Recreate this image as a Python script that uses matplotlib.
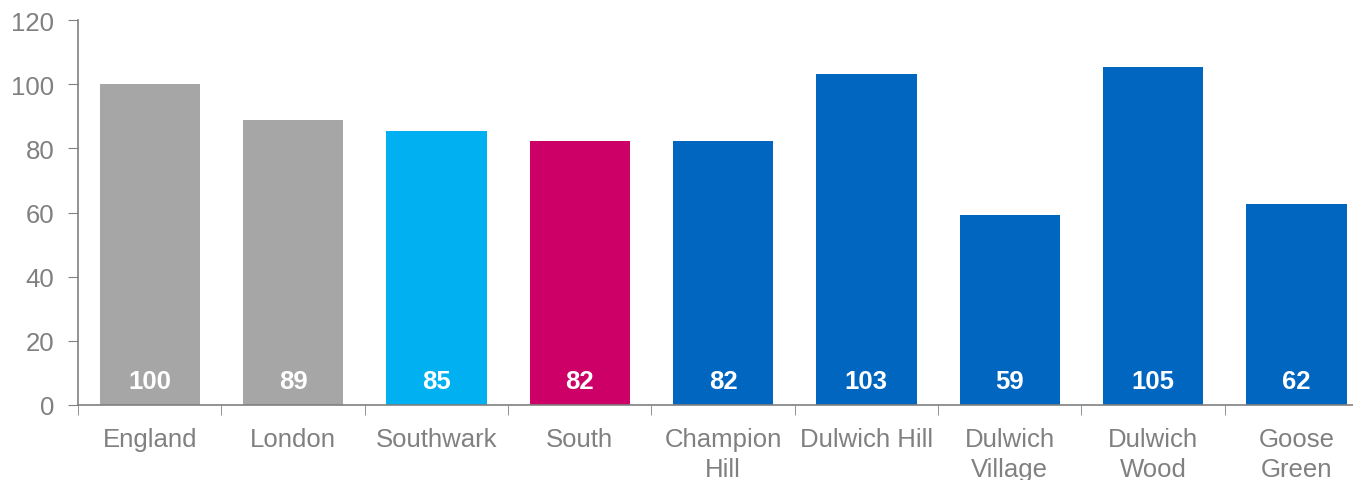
import numpy as np
from matplotlib import pyplot as plt

plt.rcParams["font.family"] = ["Liberation Sans", "DejaVu Sans"]

areas = ["England", "London", "Southwark", "South", "Champion\nHill",
         "Dulwich Hill", "Dulwich\nVillage", "Dulwich\nWood", "Goose\nGreen"]
values = [100, 88.8, 85.3, 82.4, 82.4, 103.1, 59.2, 105.4, 62.5]
colours = ["#A6A6A6", "#A6A6A6", "#00B0F0", "#CC0066", "#0066BF",
           "#0066BF", "#0066BF", "#0066BF", "#0066BF"]

grey = "#808080"

fig = plt.figure(figsize=(13.53, 4.81), dpi=100)
ax = fig.add_axes([78 / 1353, 75 / 481, 1290 / 1353, 385 / 481])

x = np.arange(len(areas))
bars = ax.bar(x, values, width=0.7, color=colours)

for i, v in enumerate(values):
    ax.text(x[i], 7.5, f"{v:.0f}", ha="center", va="center",
            color="white", fontsize=18.5, fontweight="bold")

ax.set_xlim(-0.5, len(areas) - 0.5)
ax.set_ylim(0, 120)
ax.set_yticks(range(0, 121, 20))

ax.set_xticks(x, areas)
ax.set_xticks(np.arange(-0.5, len(areas), 1), minor=True)
ax.tick_params(axis="x", which="major", length=0, pad=15.5, labelsize=18.5, labelcolor=grey)
ax.tick_params(axis="x", which="minor", length=7, color=grey, direction="out")
ax.tick_params(axis="y", length=7, color=grey, labelsize=18.5, labelcolor=grey, pad=10)
for lbl in ax.get_xticklabels():
    lbl.set_linespacing(1.32)

for side in ["top", "right"]:
    ax.spines[side].set_visible(False)
for side in ["left", "bottom"]:
    ax.spines[side].set_color(grey)
    ax.spines[side].set_linewidth(1.2)

fig.savefig("out.png", dpi=100)
